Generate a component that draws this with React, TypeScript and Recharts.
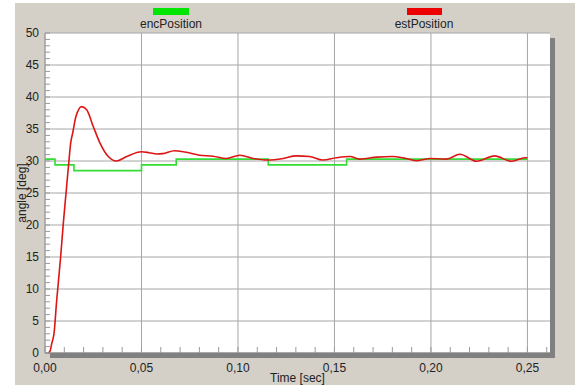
import React from 'react';
import { LineChart, Line, XAxis, YAxis, CartesianGrid } from 'recharts';

// encPosition (step signal from encoder)
const encTime = [0, 0.0052, 0.015, 0.05, 0.068, 0.1157, 0.1563, 0.25];
const encAngle = [30.3, 29.4, 28.5, 29.4, 30.3, 29.4, 30.3, 30.3];

// estPosition (estimated signal)
const estTime = [
  0.0015, 0.0026, 0.0035, 0.0047, 0.006, 0.0081, 0.0095, 0.0109, 0.0124, 0.0133,
  0.0143, 0.016, 0.019, 0.0216, 0.025, 0.0285, 0.0328, 0.037, 0.0423, 0.05,
  0.054, 0.058, 0.061, 0.067, 0.0725, 0.08, 0.087, 0.094, 0.101, 0.108,
  0.115, 0.1235, 0.13, 0.137, 0.144, 0.151, 0.158, 0.163, 0.172, 0.18,
  0.187, 0.193, 0.1995, 0.208, 0.215, 0.2237, 0.233, 0.2418, 0.2487, 0.25,
];
const estAngle = [
  0, 0.3, 1.5, 3.1, 8, 15, 20.3, 25, 30, 32.8,
  34.3, 36.9, 38.5, 38.0, 35.4, 32.8, 30.7, 30.0, 30.7, 31.45,
  31.3, 31.1, 31.15, 31.6, 31.4, 30.9, 30.75, 30.4, 30.9, 30.4,
  30.15, 30.4, 30.8, 30.7, 30.15, 30.5, 30.7, 30.3, 30.6, 30.7,
  30.4, 30.05, 30.4, 30.3, 31.05, 29.95, 30.8, 29.95, 30.5, 30.5,
];

const seriesNames = ['encPosition', 'estPosition'];
const xTicks = [0, 0.05, 0.1, 0.15, 0.2, 0.25];
const yTicks = [0, 5, 10, 15, 20, 25, 30, 35, 40, 45, 50];
const xMinorTicks = [0, 0.01, 0.02, 0.03, 0.04, 0.05, 0.06, 0.07, 0.08, 0.09, 0.1, 0.11, 0.12, 0.13, 0.14, 0.15, 0.16, 0.17, 0.18, 0.19, 0.2, 0.21, 0.22, 0.23, 0.24, 0.25, 0.26];
const yMinorTicks = Array.from({ length: 51 }, (_, i) => i);

const encData = encTime.map((t, i) => ({ t, v: encAngle[i] }));
const estData = estTime.map((t, i) => ({ t, v: estAngle[i] }));

const fmtX = (v: number) => v.toFixed(2).replace('.', ',');
const isMajorX = (v: number) => xTicks.some((m) => Math.abs(m - v) < 1e-9);
const isMajorY = (v: number) => yTicks.includes(v);

const XTick = (props: any) => {
  const { x, y, payload } = props;
  const v = payload.value as number;
  return (
    <g>
      <line x1={x} x2={x} y1={y} y2={y - 6} stroke="#9a9a9a" strokeWidth={1} />
      {isMajorX(v) && (
        <text x={x} y={y + 10} dy="0.71em" textAnchor="middle" fill="#222" fontSize={12}>
          {fmtX(v)}
        </text>
      )}
    </g>
  );
};

const YTick = (props: any) => {
  const { x, y, payload } = props;
  const v = payload.value as number;
  return (
    <g>
      <line x1={x} x2={x + 5} y1={y} y2={y} stroke="#9a9a9a" strokeWidth={1} />
      {isMajorY(v) && (
        <text x={x - 6} y={y} dy="0.355em" textAnchor="end" fill="#222" fontSize={12}>
          {v}
        </text>
      )}
    </g>
  );
};

export default function App() {
  return (
    <div
      style={{
        position: 'absolute',
        left: 0,
        top: 0,
        width: 579,
        height: 387,
        background: '#fff',
        fontFamily: '"Liberation Sans", Arial, sans-serif',
        overflow: 'hidden',
      }}
    >
      <div style={{ position: 'absolute', left: 15, top: 3, width: 560, height: 382, background: '#d4d0c8' }} />
      {/* legend */}
      <div style={{ position: 'absolute', left: 153, top: 8, width: 36, height: 7, background: '#00e600' }} />
      <div style={{ position: 'absolute', left: 111, width: 120, top: 17, textAlign: 'center', fontSize: 12, color: '#222' }}>
        {seriesNames[0]}
      </div>
      <div style={{ position: 'absolute', left: 407, top: 8, width: 35, height: 7, background: '#ee0000' }} />
      <div style={{ position: 'absolute', left: 364, width: 120, top: 17, textAlign: 'center', fontSize: 12, color: '#222' }}>
        {seriesNames[1]}
      </div>
      <div style={{ position: 'absolute', left: 0, top: 0 }}>
        <LineChart width={579} height={387} margin={{ top: 33, right: 29, bottom: 0, left: 0 }}>
          <CartesianGrid
            fill="#fff"
            stroke="#a6a6a6"
            strokeWidth={1}
            horizontalValues={yTicks}
            verticalValues={xTicks}
          />
          <XAxis
            dataKey="t"
            type="number"
            domain={[0, 0.2617]}
            allowDataOverflow
            ticks={xMinorTicks}
            interval={0}
            tickLine={false}
            tickSize={0}
            tickMargin={0}
            height={34}
            axisLine={{ stroke: '#808080' }}
            tick={<XTick />}
            label={{ value: 'Time [sec]', position: 'insideBottom', offset: 5, fill: '#222', fontSize: 12 }}
          />
          <YAxis
            type="number"
            domain={[0, 50]}
            ticks={yMinorTicks}
            interval={0}
            width={45}
            tickLine={false}
            tickSize={0}
            tickMargin={0}
            axisLine={{ stroke: '#9a9a9a' }}
            tick={<YTick />}
            label={{ value: 'angle [deg]', angle: -90, position: 'center', dx: -1, fill: '#222', fontSize: 12 }}
          />
          <Line
            data={encData}
            dataKey="v"
            name={seriesNames[0]}
            type="stepAfter"
            stroke="#33dd33"
            strokeWidth={1.6}
            dot={false}
            isAnimationActive={false}
          />
          <Line
            data={estData}
            dataKey="v"
            name={seriesNames[1]}
            type="monotone"
            stroke="#dd1515"
            strokeWidth={1.6}
            dot={false}
            isAnimationActive={false}
          />
        </LineChart>
      </div>
      {/* panel shadows */}
      <div style={{ position: 'absolute', left: 550, top: 38, width: 5, height: 320, background: '#808080' }} />
      <div style={{ position: 'absolute', left: 50, top: 353, width: 505, height: 5, background: '#808080' }} />
    </div>
  );
}
